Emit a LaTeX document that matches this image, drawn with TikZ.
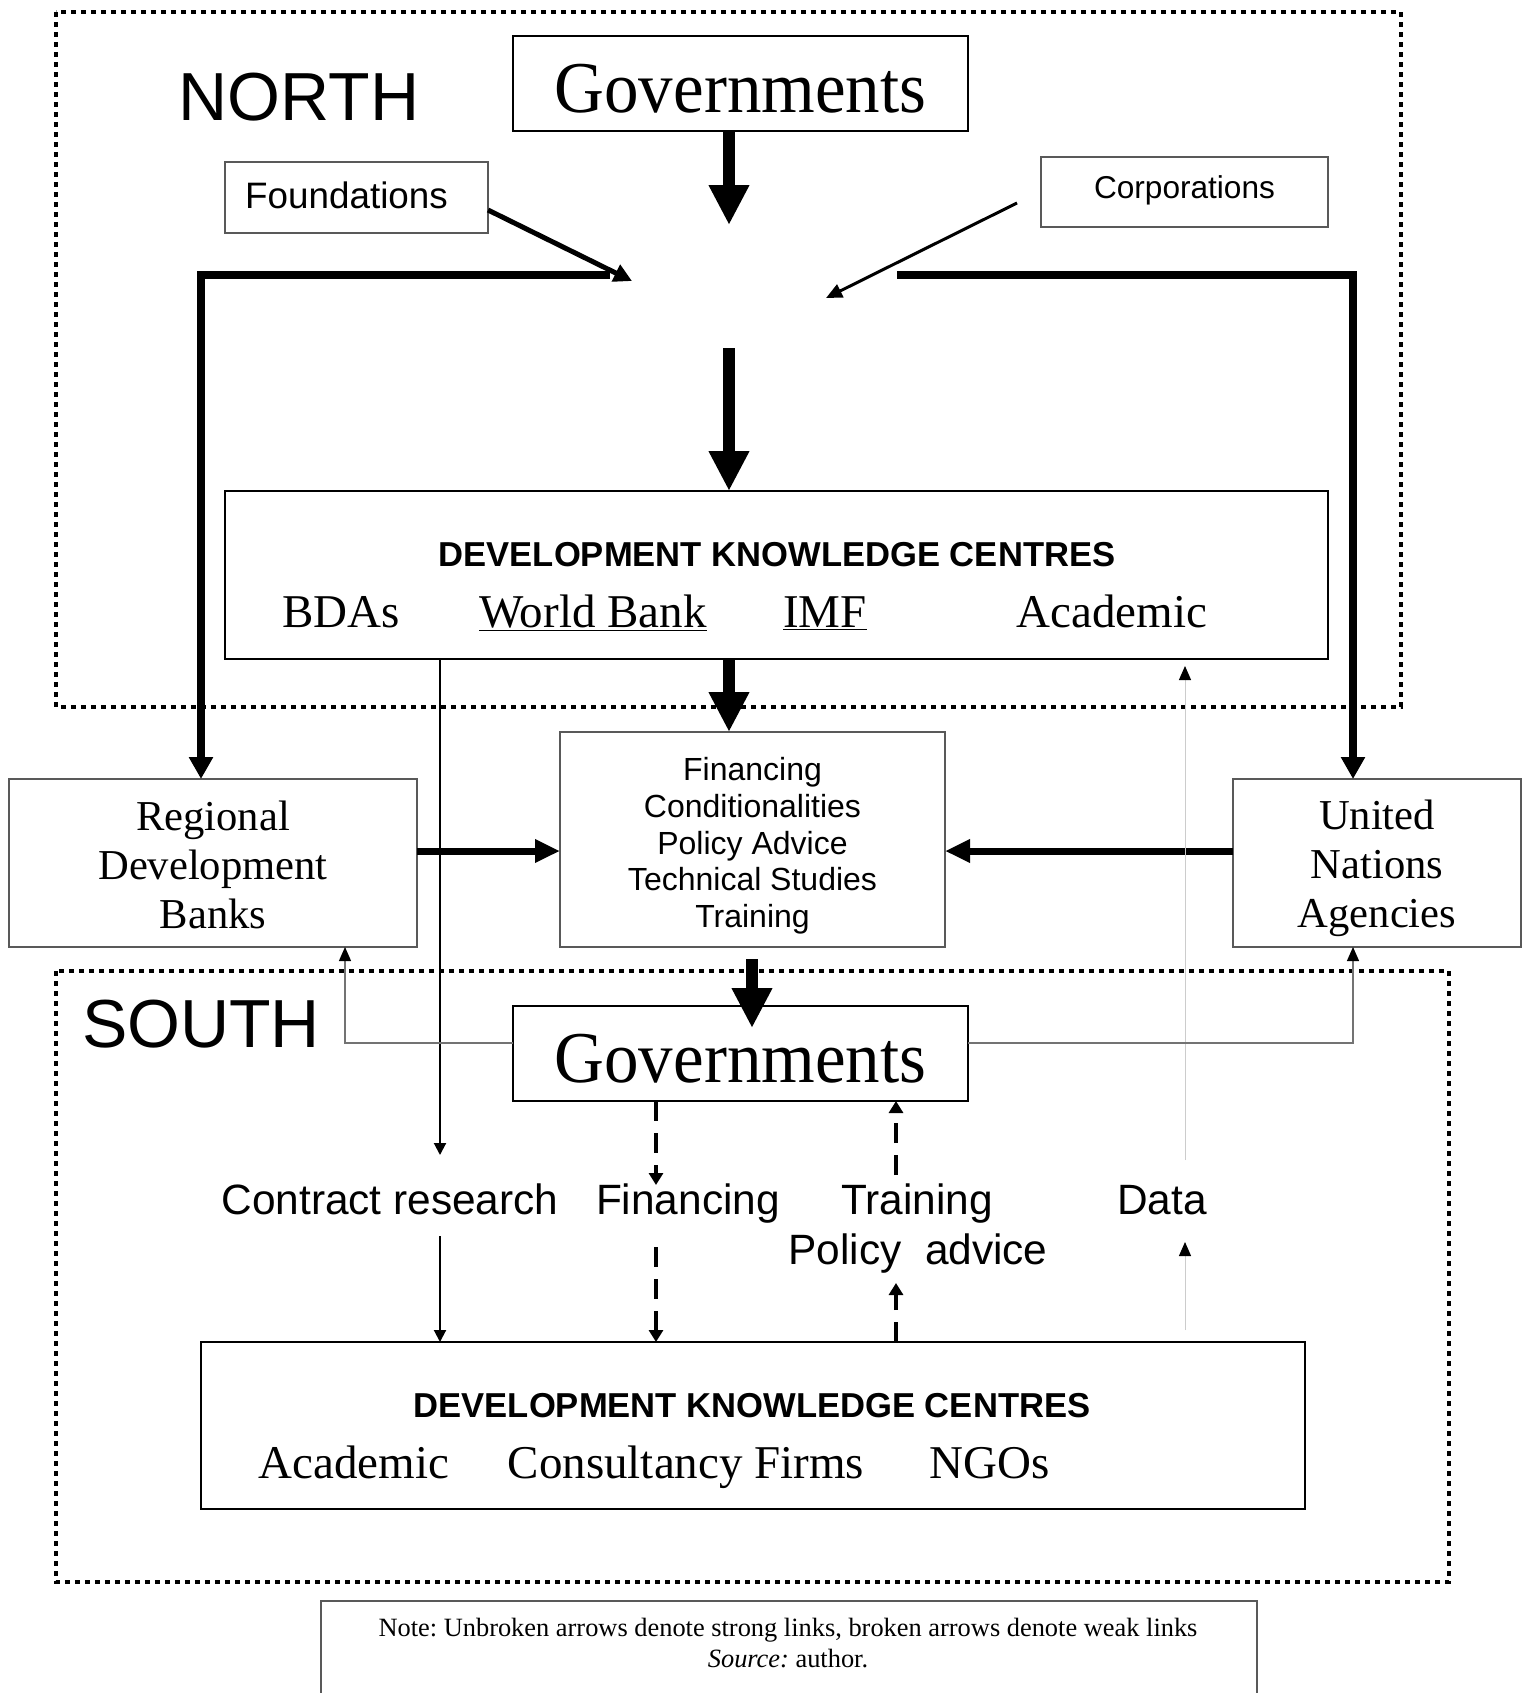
\documentclass[tikz,border=0pt]{standalone}
\usepackage{fontspec}
\setmainfont{Liberation Serif}
\setsansfont{Liberation Sans}
\newfontfamily\govfamily[FakeStretch=0.945]{Liberation Serif}
\usetikzlibrary{arrows.meta}
\frenchspacing
\begin{document}
\begin{tikzpicture}[x=0.5pt,y=-0.5pt,
  box/.style={draw, inner sep=0pt, outer sep=0pt, align=center},
  thinbox/.style={box, draw=black!65, line width=0.6pt},
  thickbox/.style={box, draw=black, line width=1pt},
  region/.style={line width=2.3pt, dash pattern=on 2.3pt off 2.7pt},
  big/.style={line width=6pt, -{Triangle[length=20pt,width=19pt]}},
  lline/.style={line width=3.75pt, -{Triangle[length=11pt,width=11.5pt]}},
  harrow/.style={line width=3.5pt, -{Triangle[length=12.5pt,width=11pt]}},
  medarrow/.style={line width=2.5pt, -{Triangle[length=9pt,width=9pt]}},
  thinnerarrow/.style={line width=1.5pt, -{Triangle[length=8pt,width=7pt]}},
  thinarrow/.style={line width=1pt, -{Triangle[length=6pt,width=6pt]}},
  dasharrow/.style={line width=2pt, dash pattern=on 10pt off 6pt, -{Triangle[length=6pt,width=7pt]}},
  grayarrow/.style={line width=0.5pt, draw=black!20, -{Triangle[length=7pt,width=6pt,fill=black,color=black]}},
  grayline/.style={line width=0.6pt, draw=black!55, -{Triangle[length=7pt,width=6pt,fill=black,color=black]}},
  govfont/.style={font=\govfamily\fontsize{36.5pt}{42pt}\selectfont, text height=28.5pt, text depth=0pt},
  regionfont/.style={font=\sffamily\fontsize{34pt}{40pt}\selectfont},
  titlefont/.style={font=\sffamily\bfseries\fontsize{17.3pt}{20pt}\selectfont},
  rowfont/.style={font=\fontsize{23.5pt}{28pt}\selectfont},
  orgfont/.style={font=\fontsize{21.3pt}{24.5pt}\selectfont, align=center},
  finfont/.style={font=\sffamily\fontsize{16pt}{18.35pt}\selectfont, align=center},
  labfont/.style={font=\sffamily\fontsize{21.2pt}{25pt}\selectfont},
  notefont/.style={font=\fontsize{13.2pt}{15pt}\selectfont}
]
\useasboundingbox (0,0) rectangle (1533,1693);
\fill[white] (0,0) rectangle (1533,1693);

% regions
\draw[region] (56,12) rectangle (1401,707);
\draw[region] (56,971) rectangle (1449,1582);

% NORTH
\node[regionfont, anchor=base] (north) at (299,120) {NORTH};
\node[thickbox, govfont, minimum width=227.5pt, minimum height=47.5pt] (govN) at (740.5,83.5) {Governments};
\node[thinbox, font=\sffamily\fontsize{18.4pt}{22pt}\selectfont, minimum width=131.5pt, minimum height=35.5pt] (found) at (356.5,197.5) {\raisebox{2.2pt}{Foundations}\hspace*{10pt}};
\node[thinbox, font=\sffamily\fontsize{15.8pt}{19pt}\selectfont, minimum width=143.5pt, minimum height=35pt] (corp) at (1184.5,192) {\raisebox{5.1pt}{Corporations}};

\coordinate (hubT) at (729,225);
\coordinate (hubB) at (729,348);
\coordinate (fTip) at (632,281);
\coordinate (cTip) at (826,298);
\coordinate (Lstart) at (610,275);
\coordinate (Lcorner) at (201,275);
\coordinate (Rstart) at (897,275);
\coordinate (Rcorner) at (1353,275);

% North DKC
\node[thickbox, minimum width=551.5pt, minimum height=84pt] (dkcN) at (776.5,575) {};
\node[titlefont, anchor=base] (dkcNt) at (777,566) {DEVELOPMENT KNOWLEDGE CENTRES};
\node[rowfont, anchor=base] (bdas) at (341,627) {BDAs};
\node[rowfont, anchor=base] (wb) at (593,627) {\underline{World Bank}};
\node[rowfont, anchor=base] (imf) at (825,627) {\underline{IMF}};
\node[rowfont, anchor=base] (acadN) at (1112,627) {Academic};

% middle row
\node[thinbox, minimum width=192.5pt, minimum height=107.5pt] (fin) at (752.5,839.5) {};
\node[finfont] (finT) at ([yshift=-3.25pt]fin.center) {Financing\\Conditionalities\\Policy Advice\\Technical Studies\\Training};
\node[thinbox, minimum width=204pt, minimum height=84pt] (rdb) at (213,863) {};
\node[orgfont] (rdbT) at ([yshift=-1pt]rdb.center) {Regional\\Development\\Banks};
\node[thinbox, minimum width=144pt, minimum height=84pt] (un) at (1377,863) {};
\node[orgfont] (unT) at ([yshift=-2.7pt]un.center) {United\\Nations\\Agencies};

% SOUTH
\node[regionfont, anchor=base] (south) at (201,1047) {SOUTH};
\node[thickbox, govfont, minimum width=227.5pt, minimum height=47.5pt] (govS) at (740.5,1053.5) {Governments};

\node[labfont, anchor=base] (contract) at (390,1214) {Contract research};
\node[labfont, anchor=base] (financing) at (688,1214) {Financing};
\node[labfont, anchor=base] (training) at (917,1214) {Training};
\node[labfont, anchor=base] (policy) at (918,1264) {Policy\ \ advice};
\node[labfont, anchor=base] (data) at (1162,1214) {Data};

% South DKC
\node[thickbox, minimum width=552pt, minimum height=83.5pt] (dkcS) at (753,1425.5) {};
\node[titlefont, anchor=base] (dkcSt) at (752,1417) {DEVELOPMENT KNOWLEDGE CENTRES};
\node[rowfont, anchor=base] (acadS) at (354,1478) {Academic};
\node[rowfont, anchor=base] (consult) at (686,1478) {Consultancy Firms};
\node[rowfont, anchor=base] (ngos) at (990,1478) {NGOs};

% note
\draw[draw=black!65, line width=0.6pt] (321,1693) -- (321,1601) -- (1257,1601) -- (1257,1693);
\node[notefont, anchor=base] (note) at (788,1636) {Note: Unbroken arrows denote strong links, broken arrows denote weak links};
\node[notefont, anchor=base] (source) at (788,1667) {\textit{Source:} author.};

% connectors north
\draw[big] (govN.south -| hubT) -- (hubT);
\draw[medarrow] ([yshift=-6.25pt]found.east) -- (fTip);
\draw[thinnerarrow] ([xshift=-12pt,yshift=-5.5pt]corp.west) -- (cTip);
\draw[big] (hubB) -- (hubB |- dkcN.north);
\draw[lline] (Lstart) -- (Lcorner) -- (Lcorner |- rdb.north);
\draw[lline] (Rstart) -- (Rcorner) -- (Rcorner |- un.north);
\draw[big] (dkcN.south -| hubT) -- (hubT |- fin.north);

\coordinate (hy) at (0,851);
\draw[harrow] (rdb.east |- hy) -- (fin.west |- hy);
\draw[harrow] (un.west |- hy) -- (fin.east |- hy);

\coordinate (fgS) at (752,959);
\coordinate (fgE) at (752,1028);
\draw[big] (fgS) -- (fgE);

% contract research
\coordinate (crx) at (440,0);
\coordinate (cr1) at (440,1155);
\coordinate (cr2) at (440,1236);
\draw[thinarrow] (dkcN.south -| crx) -- (cr1);
\draw[thinarrow] (cr2) -- (crx |- dkcS.north);

% financing dashed
\coordinate (fx) at (656,0);
\coordinate (fd1) at (656,1185);
\coordinate (fd2) at (656,1247);
\draw[dasharrow] (govS.south -| fx) -- (fd1);
\draw[dasharrow] (fd2) -- (fx |- dkcS.north);

% training dashed
\coordinate (tx) at (896,0);
\coordinate (td1) at (896,1283);
\coordinate (td2) at (896,1175);
\draw[dasharrow] (dkcS.north -| tx) -- (td1);
\draw[dasharrow] (td2) -- (tx |- govS.south);

% data
\coordinate (dd0) at (1185,1330);
\coordinate (dd1) at (1185,1242);
\coordinate (dd2) at (1185,1160);
\coordinate (dd3) at (1185,666);
\draw[grayarrow] (dd0) -- (dd1);
\draw[grayarrow] (dd2) -- (dd3);

% gov south to RDB / UN
\coordinate (gy) at (0,1043);
\coordinate (gl) at (345,1043);
\coordinate (gr) at (1353,1043);
\draw[grayline] (govS.west |- gy) -- (gl) -- (gl |- rdb.south);
\draw[grayline] (govS.east |- gy) -- (gr) -- (gr |- un.south);
\end{tikzpicture}
\end{document}
